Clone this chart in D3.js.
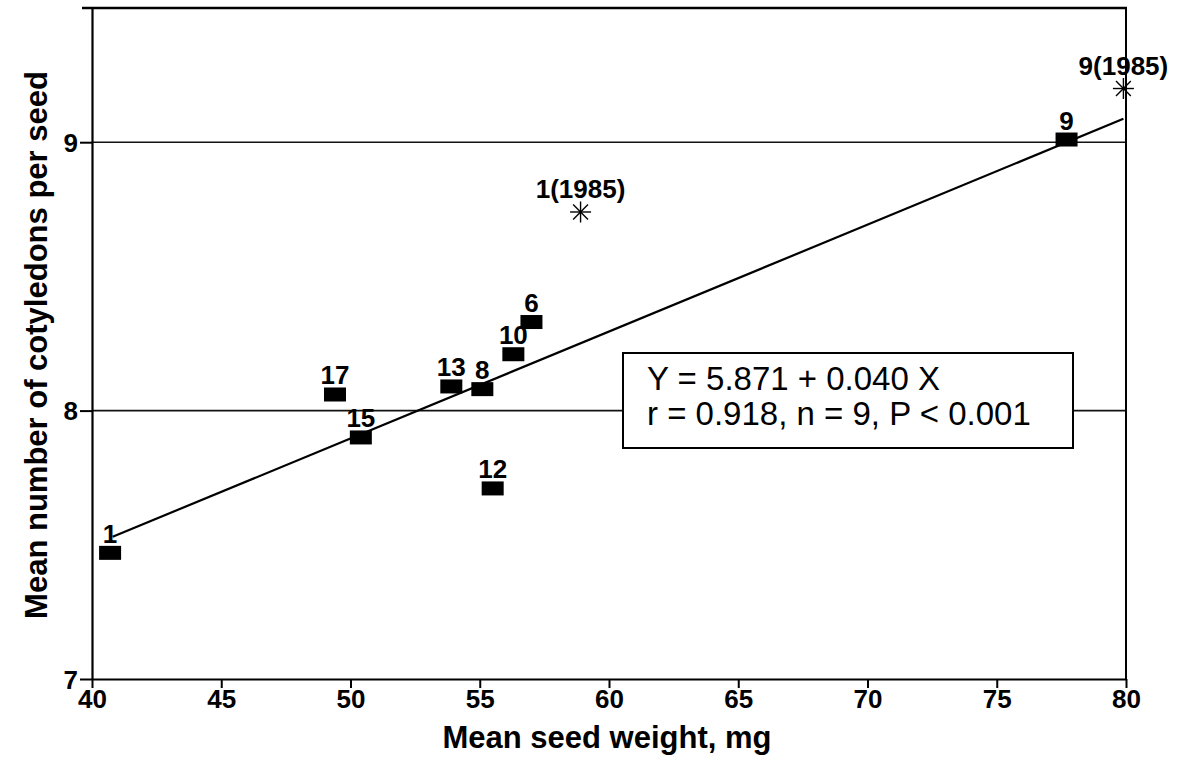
<!DOCTYPE html>
<html>
<head>
<meta charset="utf-8" />
<title>Cotyledons vs seed weight</title>
<script src="https://d3js.org/d3.v7.min.js"></script>
<style>
  body { margin: 0; background: #fff; }
  text { font-family: "Liberation Sans", Arial, sans-serif; fill: #000; }
</style>
</head>
<body>
<div id="chart"></div>
<script>
// provenance labels and values
const labels   = ["1", "15", "17", "13", "8", "10", "6", "12", "9"];
const weights  = [40.7, 50.4, 49.4, 53.9, 55.1, 56.3, 57.0, 55.5, 77.7];
const cotyl    = [7.47, 7.90, 8.06, 8.09, 8.08, 8.21, 8.33, 7.71, 9.01];

// 1985 samples (asterisks)
const labels85  = ["1(1985)", "9(1985)"];
const weights85 = [58.9, 79.9];
const cotyl85   = [8.74, 9.20];

// fitted line end points as drawn
const fitX = [40.8, 79.9];
const fitY = [7.53, 9.087];

const xTicks = [40, 45, 50, 55, 60, 65, 70, 75, 80];
const yTicks = [7, 8, 9];
const eqLines = ["Y = 5.871 + 0.040 X", "r = 0.918, n = 9, P < 0.001"];

const W = 1183, H = 758;
const margin = { top: 8, right: 57, bottom: 79, left: 92 };
const iw = W - margin.left - margin.right;
const ih = H - margin.top - margin.bottom;

const svg = d3.select("#chart").append("svg")
    .attr("width", W).attr("height", H);
const g = svg.append("g").attr("transform", `translate(${margin.left},${margin.top})`);

const x = d3.scaleLinear().domain([40, 80]).range([0, iw]);
const y = d3.scaleLinear().domain([7, 9.5]).range([ih, 0]);

// horizontal grid lines at 8 and 9
g.selectAll("line.grid")
    .data([8, 9])
    .enter().append("line")
    .attr("class", "grid")
    .attr("x1", 0).attr("x2", iw)
    .attr("y1", d => y(d)).attr("y2", d => y(d))
    .attr("stroke", "#111").attr("stroke-width", 1.6);

// frame (top and right)
g.append("line").attr("x1", -10).attr("x2", iw + 1).attr("y1", 0).attr("y2", 0)
    .attr("stroke", "#000").attr("stroke-width", 2.5);
g.append("line").attr("x1", iw).attr("x2", iw).attr("y1", 0).attr("y2", ih)
    .attr("stroke", "#000").attr("stroke-width", 2);

// axes
const xAxis = g.append("g").attr("transform", `translate(0,${ih})`)
    .call(d3.axisBottom(x).tickValues(xTicks).tickFormat(d3.format("d"))
      .tickSize(9).tickPadding(2).tickSizeOuter(0));
const yAxis = g.append("g")
    .call(d3.axisLeft(y).tickValues(yTicks).tickFormat(d3.format("d"))
      .tickSize(12).tickPadding(2).tickSizeOuter(0));
[xAxis, yAxis].forEach(a => {
  a.select(".domain").attr("stroke", "#000").attr("stroke-width", 2.2);
  a.selectAll(".tick line").attr("stroke", "#000").attr("stroke-width", 2);
  a.selectAll(".tick text").attr("fill", "#000")
    .attr("font-size", 26).attr("font-weight", "bold")
    .attr("font-family", "Liberation Sans, Arial, sans-serif");
});
yAxis.selectAll(".tick text").attr("dy", "0.36em");

// regression line
g.append("line")
    .attr("x1", x(fitX[0])).attr("y1", y(fitY[0]))
    .attr("x2", x(fitX[1])).attr("y2", y(fitY[1]))
    .attr("stroke", "#000").attr("stroke-width", 2.2);

// squares
const pts = labels.map((l, i) => ({ label: l, x: weights[i], y: cotyl[i] }));
const sq = g.selectAll("g.pt").data(pts).enter().append("g")
    .attr("class", "pt")
    .attr("transform", d => `translate(${x(d.x)},${y(d.y)})`);
sq.append("rect")
    .attr("x", -11).attr("y", -7).attr("width", 22).attr("height", 14)
    .attr("fill", "#000");
sq.append("text")
    .attr("y", -10).attr("text-anchor", "middle")
    .attr("font-size", 26).attr("font-weight", "bold")
    .text(d => d.label);

// asterisks
const pts85 = labels85.map((l, i) => ({ label: l, x: weights85[i], y: cotyl85[i] }));
const st = g.selectAll("g.star").data(pts85).enter().append("g")
    .attr("class", "star")
    .attr("transform", d => `translate(${x(d.x)},${y(d.y)})`);
[0, 45, 90, 135].forEach(a => {
  st.append("line")
    .attr("x1", -10.5).attr("x2", 10.5).attr("y1", 0).attr("y2", 0)
    .attr("transform", `rotate(${a})`)
    .attr("stroke", "#000").attr("stroke-width", 1.4);
});
st.append("text")
    .attr("y", -14).attr("text-anchor", "middle")
    .attr("font-size", 26).attr("font-weight", "bold")
    .text(d => d.label);

// equation box
const box = svg.append("g").attr("transform", "translate(623,353)");
box.append("rect")
    .attr("width", 450).attr("height", 95)
    .attr("fill", "#fff").attr("stroke", "#000").attr("stroke-width", 2);
box.selectAll("text.eq").data(eqLines).enter().append("text")
    .attr("class", "eq")
    .attr("x", 24).attr("y", (d, i) => 37 + i * 35)
    .attr("font-size", 33)
    .text(d => d);

// axis titles
svg.append("text")
    .attr("x", 607).attr("y", 748)
    .attr("text-anchor", "middle")
    .attr("font-size", 31).attr("font-weight", "bold")
    .text("Mean seed weight, mg");
svg.append("text")
    .attr("transform", "translate(47,345) rotate(-90)")
    .attr("text-anchor", "middle")
    .attr("font-size", 31).attr("font-weight", "bold")
    .text("Mean number of cotyledons per seed");
</script>
</body>
</html>
